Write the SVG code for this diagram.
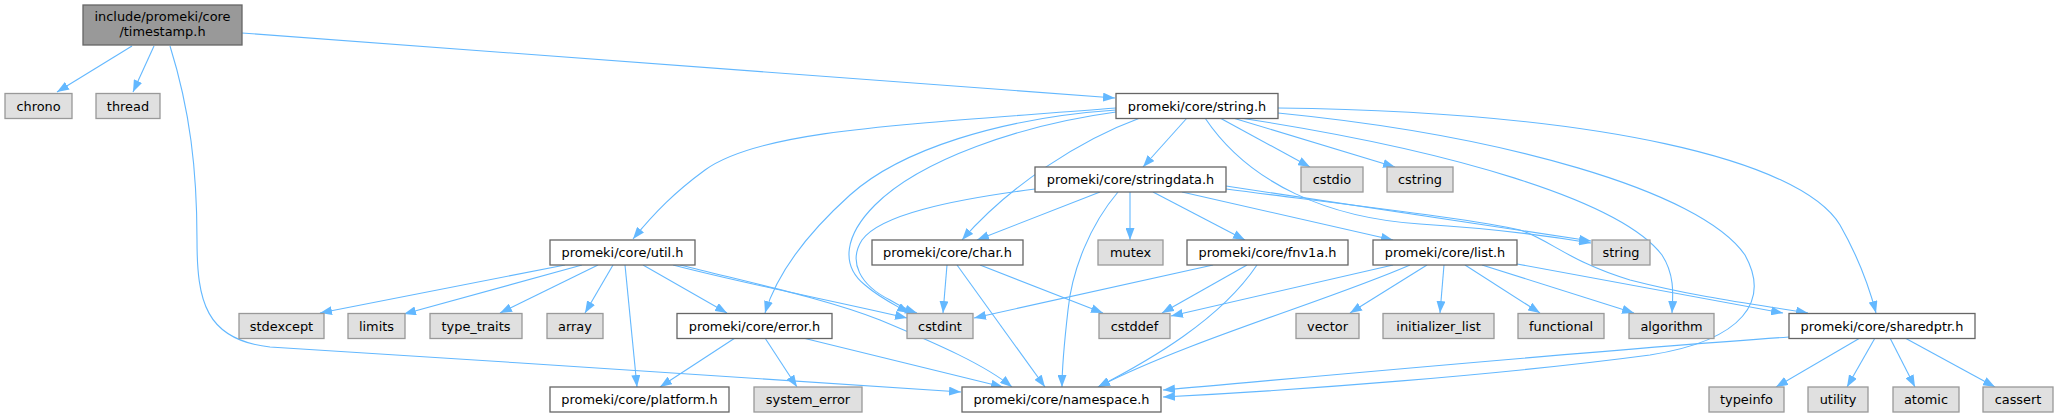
<svg xmlns="http://www.w3.org/2000/svg" width="2059" height="417" viewBox="0 0 2059 417">
<style>
.e{fill:none;stroke:#63b8ff;stroke-width:1.1;marker-end:url(#ah)}
.w{fill:#ffffff;stroke:#666666;stroke-width:1.3}
.g{fill:#e0e0e0;stroke:#999999;stroke-width:1.3}
.d{fill:#999999;stroke:#666666;stroke-width:1.3}
text{font-family:"DejaVu Sans","Liberation Sans",sans-serif;font-size:12.9px;fill:#000;text-anchor:middle}
</style>
<defs>
<marker id="ah" markerWidth="12" markerHeight="9" refX="12" refY="4.5" orient="auto" markerUnits="userSpaceOnUse"><path d="M0,0 L12,4.5 L0,9 Z" fill="#63b8ff"/></marker>
</defs>
<rect width="2059" height="417" fill="#ffffff"/>
<g id="edges">
<path class="e" d="M132,46 L57,92"/>
<path class="e" d="M154,46 L133,92"/>
<path class="e" d="M242,33 L1115,98"/>
<path class="e" d="M170,46 C190,110 197,170 197,240 C197,300 205,340 270,347 C500,362 800,380 961,392"/>
<path class="e" d="M1116,108 C900,125 760,130 705,170 C675,192 655,212 633,239"/>
<path class="e" d="M1116,110 C1000,118 900,150 850,195 C800,240 775,280 765,313"/>
<path class="e" d="M1116,112 C1020,125 920,160 875,205 C845,235 840,265 865,285 C880,298 895,305 909,313"/>
<path class="e" d="M1140,118 C1080,140 1010,185 962,240"/>
<path class="e" d="M1187,118 L1143,167"/>
<path class="e" d="M1220,118 L1310,167"/>
<path class="e" d="M1233,118 L1395,167"/>
<path class="e" d="M1205,118 C1250,185 1330,218 1420,224 C1500,229 1550,236 1591,243"/>
<path class="e" d="M1240,118 C1450,150 1620,200 1662,255 C1675,275 1673,295 1672,313"/>
<path class="e" d="M1278,113 C1500,135 1700,190 1745,255 C1770,300 1745,340 1650,355 C1500,375 1300,390 1163,397"/>
<path class="e" d="M1278,108 C1600,112 1800,160 1840,225 C1860,260 1870,290 1876,313"/>
<path class="e" d="M1100,192 L977,240"/>
<path class="e" d="M1035,189 C950,200 880,215 862,240 C848,262 860,285 890,300 C900,306 908,310 917,313"/>
<path class="e" d="M1130,192 L1130,240"/>
<path class="e" d="M1118,192 C1090,225 1072,270 1068,310 C1064,345 1062,365 1062,387"/>
<path class="e" d="M1153,192 L1245,240"/>
<path class="e" d="M1182,192 L1393,240"/>
<path class="e" d="M1226,186 L1591,241"/>
<path class="e" d="M1226,189 C1350,205 1480,220 1520,230 C1550,240 1570,262 1630,280 C1700,298 1760,305 1808,313"/>
<path class="e" d="M565,265 L320,313"/>
<path class="e" d="M582,265 L404,314"/>
<path class="e" d="M598,265 L500,313"/>
<path class="e" d="M613,265 L585,313"/>
<path class="e" d="M625,265 L637,387"/>
<path class="e" d="M643,265 L727,313"/>
<path class="e" d="M673,265 C750,285 830,300 907,318"/>
<path class="e" d="M680,265 C760,285 830,300 880,320 C940,345 985,365 1012,387"/>
<path class="e" d="M947,265 L943,313"/>
<path class="e" d="M980,265 L1103,313"/>
<path class="e" d="M957,265 L1045,387"/>
<path class="e" d="M1213,265 L974,318"/>
<path class="e" d="M1247,265 L1162,313"/>
<path class="e" d="M1257,265 C1220,320 1150,360 1098,387"/>
<path class="e" d="M1393,265 L1171,316"/>
<path class="e" d="M1410,265 C1330,300 1190,340 1098,387"/>
<path class="e" d="M1427,265 L1350,313"/>
<path class="e" d="M1444,265 L1440,313"/>
<path class="e" d="M1465,265 L1540,313"/>
<path class="e" d="M1482,265 L1634,313"/>
<path class="e" d="M1517,264 L1783,313"/>
<path class="e" d="M735,338 L660,387"/>
<path class="e" d="M765,338 L797,387"/>
<path class="e" d="M803,338 L1003,387"/>
<path class="e" d="M1789,337 C1600,350 1300,378 1163,390"/>
<path class="e" d="M1860,338 L1776,387"/>
<path class="e" d="M1875,338 L1847,387"/>
<path class="e" d="M1890,338 L1915,387"/>
<path class="e" d="M1905,338 L1995,387"/>
</g>
<g id="n_timestamp"><rect class="d" x="83" y="5" width="159" height="40"/><text x="162.5" y="21">include/promeki/core</text><text x="162.5" y="36">/timestamp.h</text></g>
<g id="n_chrono"><rect class="g" x="5" y="93.5" width="67" height="25"/><text x="38.5" y="110.5">chrono</text></g>
<g id="n_thread"><rect class="g" x="96" y="93.5" width="64" height="25"/><text x="128" y="110.5">thread</text></g>
<g id="n_string_h"><rect class="w" x="1116" y="93.5" width="162" height="25"/><text x="1197" y="110.5">promeki/core/string.h</text></g>
<g id="n_stringdata"><rect class="w" x="1035" y="167" width="191" height="25"/><text x="1130.5" y="184">promeki/core/stringdata.h</text></g>
<g id="n_cstdio"><rect class="g" x="1301" y="167" width="62" height="25"/><text x="1332" y="184">cstdio</text></g>
<g id="n_cstring"><rect class="g" x="1387" y="167" width="66" height="25"/><text x="1420" y="184">cstring</text></g>
<g id="n_util"><rect class="w" x="550" y="240" width="145" height="25"/><text x="622.5" y="257">promeki/core/util.h</text></g>
<g id="n_char"><rect class="w" x="872" y="240" width="151" height="25"/><text x="947.5" y="257">promeki/core/char.h</text></g>
<g id="n_mutex"><rect class="g" x="1098" y="240" width="65" height="25"/><text x="1130.5" y="257">mutex</text></g>
<g id="n_fnv1a"><rect class="w" x="1187" y="240" width="161" height="25"/><text x="1267.5" y="257">promeki/core/fnv1a.h</text></g>
<g id="n_list"><rect class="w" x="1373" y="240" width="144" height="25"/><text x="1445" y="257">promeki/core/list.h</text></g>
<g id="n_string"><rect class="g" x="1592" y="240" width="58" height="25"/><text x="1621" y="257">string</text></g>
<g id="n_stdexcept"><rect class="g" x="239" y="313.5" width="85" height="25"/><text x="281.5" y="330.5">stdexcept</text></g>
<g id="n_limits"><rect class="g" x="348" y="313.5" width="57" height="25"/><text x="376.5" y="330.5">limits</text></g>
<g id="n_type_traits"><rect class="g" x="430" y="313.5" width="92" height="25"/><text x="476" y="330.5">type_traits</text></g>
<g id="n_array"><rect class="g" x="547" y="313.5" width="56" height="25"/><text x="575" y="330.5">array</text></g>
<g id="n_error"><rect class="w" x="677" y="313.5" width="155" height="25"/><text x="754.5" y="330.5">promeki/core/error.h</text></g>
<g id="n_cstdint"><rect class="g" x="907" y="313.5" width="66" height="25"/><text x="940" y="330.5">cstdint</text></g>
<g id="n_cstddef"><rect class="g" x="1099" y="313.5" width="71" height="25"/><text x="1134.5" y="330.5">cstddef</text></g>
<g id="n_vector"><rect class="g" x="1296" y="313.5" width="63" height="25"/><text x="1327.5" y="330.5">vector</text></g>
<g id="n_initializer_list"><rect class="g" x="1383" y="313.5" width="111" height="25"/><text x="1438.5" y="330.5">initializer_list</text></g>
<g id="n_functional"><rect class="g" x="1518" y="313.5" width="86" height="25"/><text x="1561" y="330.5">functional</text></g>
<g id="n_algorithm"><rect class="g" x="1629" y="313.5" width="85" height="25"/><text x="1671.5" y="330.5">algorithm</text></g>
<g id="n_sharedptr"><rect class="w" x="1789" y="313.5" width="186" height="25"/><text x="1882" y="330.5">promeki/core/sharedptr.h</text></g>
<g id="n_platform"><rect class="w" x="550" y="387" width="179" height="25"/><text x="639.5" y="404">promeki/core/platform.h</text></g>
<g id="n_system_error"><rect class="g" x="754" y="387" width="108" height="25"/><text x="808" y="404">system_error</text></g>
<g id="n_namespace"><rect class="w" x="962" y="387" width="199" height="25"/><text x="1061.5" y="404">promeki/core/namespace.h</text></g>
<g id="n_typeinfo"><rect class="g" x="1709" y="387" width="75" height="25"/><text x="1746.5" y="404">typeinfo</text></g>
<g id="n_utility"><rect class="g" x="1808" y="387" width="60" height="25"/><text x="1838" y="404">utility</text></g>
<g id="n_atomic"><rect class="g" x="1893" y="387" width="66" height="25"/><text x="1926" y="404">atomic</text></g>
<g id="n_cassert"><rect class="g" x="1983" y="387" width="70" height="25"/><text x="2018" y="404">cassert</text></g>
</svg>
